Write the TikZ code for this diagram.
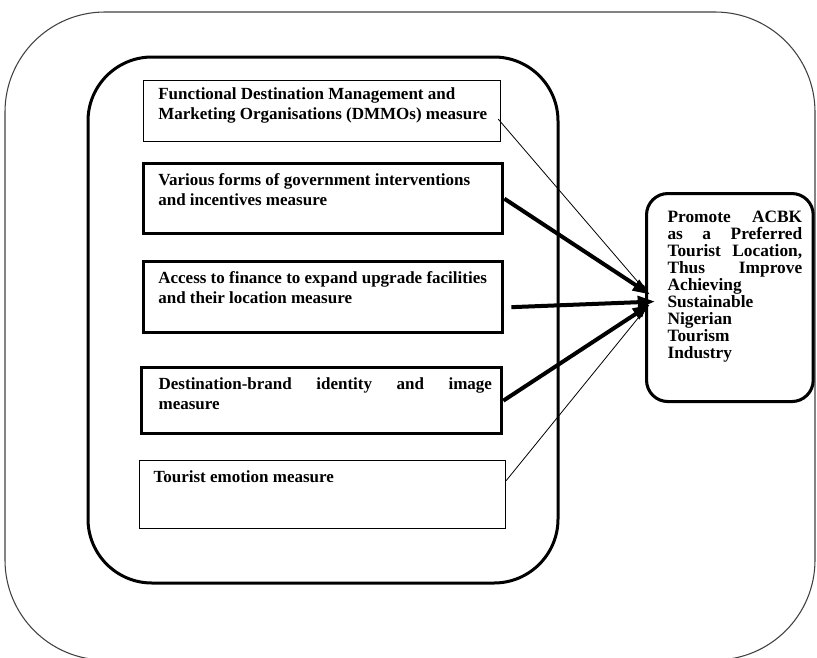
\documentclass[tikz,border=0pt]{standalone}
\usepackage{fontspec}
\setmainfont{Liberation Serif}
\usetikzlibrary{calc,arrows.meta}
\newcommand\boxbody[5]{\parbox[c][#2][t]{#1}{\raggedright\leftskip=#3\relax\parindent=0pt\lineskiplimit=-20pt\relax\rule{0pt}{#4}#5}}
\begin{document}
\begin{tikzpicture}[x=0.75pt,y=-0.75pt,
  txt/.style={font=\bfseries\fontsize{12.75}{14.5}\selectfont},
  goaltxt/.style={font=\bfseries\fontsize{13}{12.75}\selectfont},
  mbox/.style={draw, anchor=north west, inner sep=0pt, txt},
  thinbox/.style={mbox, line width=0.9pt},
  thickbox/.style={mbox, line width=2.5pt},
  goalbox/.style={draw, anchor=north west, inner sep=0pt, rounded corners=16pt, line width=2.3pt, goaltxt},
  heavy/.style={line width=3pt, -{Triangle[length=13pt,width=9pt]}},
  light/.style={line width=0.6pt, -{Triangle[length=6pt,width=4pt]}},
  outerframe/.style={line width=0.8pt, black!75, rounded corners=75pt},
  innerframe/.style={line width=2.25pt, rounded corners=48pt},
]
\useasboundingbox (0,0) rectangle (817,657);
\draw[outerframe] (5,12) rectangle (815,660);
\draw[innerframe] (88,57) rectangle (558,583);

\node[thinbox] (b1) at (143,80) {\boxbody{267.75pt}{45.75pt}{11pt}{14.5pt}{Functional Destination Management and\\Marketing Organisations (DMMOs) measure}};
\node[thickbox] (b2) at (142,162) {\boxbody{269.25pt}{52.5pt}{11pt}{16.5pt}{Various forms of government interventions\\and incentives measure}};
\node[thickbox] (b3) at (142,260) {\boxbody{269.25pt}{53.25pt}{11pt}{16.5pt}{Access to finance to expand upgrade facilities\\and their location measure}};
\node[thickbox] (b4) at (140,366) {\boxbody{270pt}{49.5pt}{12.75pt}{16.5pt}{\makebox[250pt][s]{Destination-brand identity and image}\\measure}};
\node[thinbox] (b5) at (139,460) {\boxbody{274.5pt}{51pt}{10.5pt}{16.5pt}{Tourist emotion measure}};

\node[goalbox] (goal) at (645,192) {\boxbody{125pt}{156pt}{15.75pt}{21.75pt}{%
\makebox[101pt][s]{Promote ACBK}\\
\makebox[101pt][s]{as a Preferred}\\
\makebox[101pt][s]{Tourist Location,}\\
\makebox[101pt][s]{Thus Improve}\\
Achieving\\
Sustainable\\
Nigerian\\
Tourism\\
Industry}};

\draw[light] ($(b1.east)+(-3,8)$) -- ($(goal.west)+(2,-5)$);
\draw[heavy] (b2.east) -- ($(goal.west)+(5,-3)$);
\draw[heavy] ($(b3.east)+(7,10)$) -- ($(goal.west)+(10,4)$);
\draw[heavy] (b4.east) -- ($(goal.west)+(5,7)$);
\draw[light] ($(b5.east)+(0,-14)$) -- ($(goal.west)+(0,12)$);
\end{tikzpicture}
\end{document}
